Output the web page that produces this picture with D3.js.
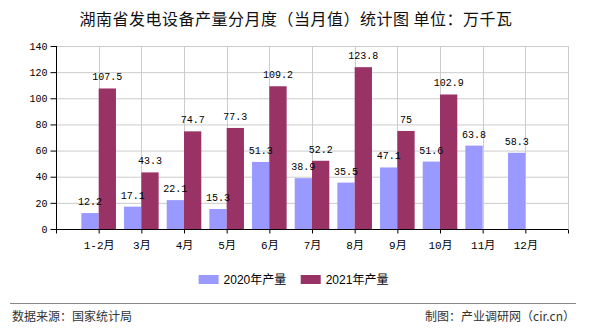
<!DOCTYPE html>
<html><head><meta charset="utf-8">
<script src="https://cdn.jsdelivr.net/npm/d3@7"></script>
<style>body{margin:0;background:#fff}svg{display:block}</style>
</head><body>
<script>
const categories = ["1-2月","3月","4月","5月","6月","7月","8月","9月","10月","11月","12月"];
const v2020 = [12.2,17.1,22.1,15.3,51.3,38.9,35.5,47.1,51.6,63.8,58.3];
const v2021 = [107.5,43.3,74.7,77.3,109.2,52.2,123.8,75,102.9,null,null];
const yTicks = [0,20,40,60,80,100,120,140];
const seriesNames = ["2020年产量","2021年产量"];
const colors = ["#9999FF","#993366"];

const W=590,H=330;
const svg=d3.select("body").append("svg").attr("width",W).attr("height",H);
const L=56,R=568,T=46,B=229;
const x=d3.scaleLinear().domain([-1,11]).range([L,R]);
const y=d3.scaleLinear().domain([0,140]).range([B,T]);
const bw=17.3;
const monoFont='"Liberation Mono","DejaVu Sans Mono","Noto Sans CJK SC",monospace';

// title
svg.append("text").attr("x",296).attr("y",25).attr("text-anchor","middle")
  .style("font-family",'"Noto Sans CJK SC",sans-serif').style("font-size","16px").style("letter-spacing","0.5px").attr("fill","#111")
  .text("湖南省发电设备产量分月度（当月值）统计图 单位：万千瓦");

// grid
const g=svg.append("g");
g.selectAll(".hg").data(yTicks).join("line").attr("x1",L).attr("x2",R)
  .attr("y1",d=>y(d)+0.5).attr("y2",d=>y(d)+0.5).attr("stroke","#cccccc");
g.selectAll(".vg").data(d3.range(-1,12)).join("line").attr("y1",T).attr("y2",B)
  .attr("x1",d=>Math.round(x(d))+0.5).attr("x2",d=>Math.round(x(d))+0.5).attr("stroke","#cccccc");

const seriesList=[v2020,v2021];
const barsG=svg.append("g"), labelsG=svg.append("g");
seriesList.forEach((vals,si)=>{
  const data=vals.map((v,i)=>({v,i})).filter(d=>d.v!=null);
  const off = si===0 ? -bw : 0;
  barsG.append("g").selectAll("rect").data(data).join("rect")
    .attr("x",d=>x(d.i)+off).attr("width",bw)
    .attr("y",d=>y(d.v)).attr("height",d=>B-y(d.v)).attr("fill",colors[si]);
  labelsG.append("g").selectAll("text").data(data).join("text")
    .attr("x",d=>x(d.i)+off+bw/2).attr("y",d=>y(d.v)-8).attr("text-anchor","middle")
    .style("font-family",monoFont).style("font-size","10px").attr("fill","#000")
    .text(d=>String(d.v));
});

// y axis
const ya=svg.append("g").attr("transform",`translate(${L+0.5},0)`)
  .call(d3.axisLeft(y).tickValues(yTicks).tickSize(6).tickPadding(3).tickFormat(d3.format("d")));
ya.select(".domain").attr("stroke","#000").attr("d",`M-0,${T}V${B}`);
ya.selectAll("text").style("font-family",monoFont).style("font-size","10px").attr("fill","#000");
ya.selectAll(".tick line").attr("stroke","#000");

// x axis
const xa=svg.append("g").attr("transform",`translate(0,${B+0.5})`)
  .call(d3.axisBottom(x).tickValues(d3.range(-1,12)).tickSize(4).tickPadding(8)
    .tickFormat(i=>categories[i]||""));
xa.select(".domain").attr("stroke","#000").attr("d",`M${L},0H${R}`);
xa.selectAll(".tick line").attr("stroke","#000");
xa.selectAll("text").style("font-family",monoFont).style("font-size","11px").attr("fill","#000");

// legend
const leg=svg.append("g");
const lx=[198.6,300.7];
seriesNames.forEach((n,i)=>{
  leg.append("rect").attr("x",lx[i]).attr("y",275).attr("width",20).attr("height",9).attr("fill",colors[i]);
  leg.append("text").attr("x",lx[i]+25).attr("y",284).style("font-family",'"Liberation Sans","Noto Sans CJK SC",sans-serif')
    .style("font-size","12px").attr("fill","#000").text(n);
});

// footer
svg.append("line").attr("x1",10).attr("x2",576).attr("y1",303.5).attr("y2",303.5).attr("stroke","#888").attr("stroke-width",1);
svg.append("text").attr("x",12).attr("y",321).style("font-family",'"Noto Sans CJK SC",sans-serif').style("font-size","12px").attr("fill","#333").text("数据来源：国家统计局");
svg.append("text").attr("x",575).attr("y",321).attr("text-anchor","end").style("font-family",'"Noto Sans CJK SC",sans-serif').style("font-size","12px").attr("fill","#333").text("制图：产业调研网（cir.cn）");
</script>
</body></html>
